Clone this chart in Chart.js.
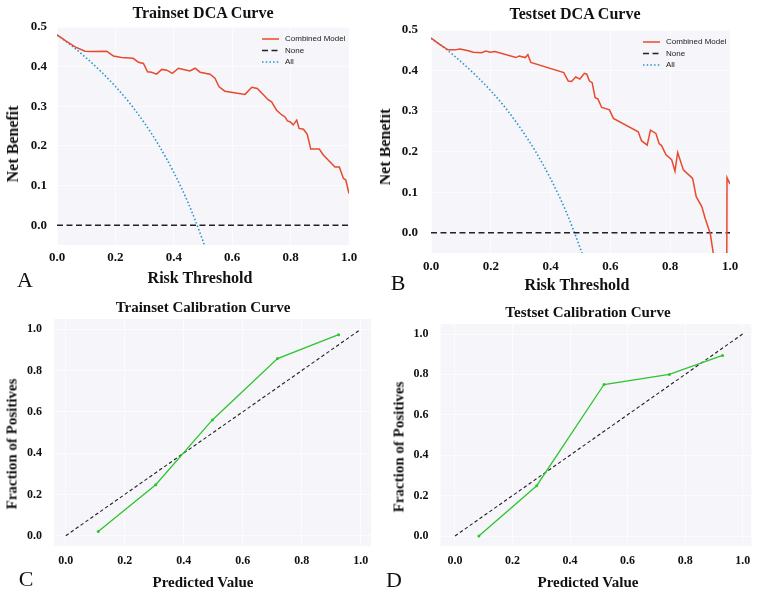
<!DOCTYPE html>
<html>
<head>
<meta charset="utf-8">
<script src="https://cdn.jsdelivr.net/npm/chart.js@4.4.1/dist/chart.umd.min.js"></script>
<style>
body { margin: 0; background: #fff; width: 760px; height: 595px; position: relative; overflow: hidden; }
.panel { position: absolute; overflow: hidden; }
.panel canvas { position: absolute; left: 0; top: 0; }
.lbl { position: absolute; font-family: "Liberation Serif", "Times New Roman", serif; font-weight: bold; color: #111;
       white-space: nowrap; line-height: 1; transform: translate(-50%, -50%); }
.lbl.rot { transform: translate(-50%, -50%) rotate(-90deg); }
.letter { position: absolute; font-family: "Liberation Serif", "Times New Roman", serif; font-size: 22px; line-height: 1;
          color: #111; transform: translate(-50%, -50%); }
</style>
</head>
<body>

<div class="panel" style="left:0;top:0;width:380px;height:295px">
  <canvas id="trainDca" width="380" height="295"></canvas>
  <div class="lbl" style="left:203px;top:13px;font-size:16px">Trainset DCA Curve</div>
  <div class="lbl rot" style="left:13px;top:144px;font-size:16px">Net Benefit</div>
  <div class="lbl" style="left:200px;top:278px;font-size:16px">Risk Threshold</div>
  <div class="letter" style="left:25px;top:280px">A</div>
</div>

<div class="panel" style="left:380px;top:0;width:380px;height:295px">
  <canvas id="testDca" width="380" height="295"></canvas>
  <div class="lbl" style="left:195px;top:14px;font-size:16px">Testset DCA Curve</div>
  <div class="lbl rot" style="left:5px;top:147px;font-size:16px">Net Benefit</div>
  <div class="lbl" style="left:197px;top:285px;font-size:16px">Risk Threshold</div>
  <div class="letter" style="left:18px;top:283px">B</div>
</div>

<div class="panel" style="left:0;top:295px;width:380px;height:300px">
  <canvas id="trainCal" width="380" height="300"></canvas>
  <div class="lbl" style="left:203px;top:12px;font-size:15px">Trainset Calibration Curve</div>
  <div class="lbl rot" style="left:12px;top:149px;font-size:15px">Fraction of Positives</div>
  <div class="lbl" style="left:203px;top:287px;font-size:15px">Predicted Value</div>
  <div class="letter" style="left:26px;top:284px">C</div>
</div>

<div class="panel" style="left:380px;top:295px;width:380px;height:300px">
  <canvas id="testCal" width="380" height="300"></canvas>
  <div class="lbl" style="left:208px;top:17px;font-size:15px">Testset Calibration Curve</div>
  <div class="lbl rot" style="left:19px;top:152px;font-size:15px">Fraction of Positives</div>
  <div class="lbl" style="left:208px;top:287px;font-size:15px">Predicted Value</div>
  <div class="letter" style="left:14px;top:285px">D</div>
</div>

<script>
// tick labels
const dcaTicksX = [0, 0.2, 0.4, 0.6, 0.8, 1.0];
const dcaTicksY = [0, 0.1, 0.2, 0.3, 0.4, 0.5];
const calTicks = [0, 0.2, 0.4, 0.6, 0.8, 1.0];

// trainset DCA, combined model
const trainThreshold = [0, 0.03, 0.062, 0.096, 0.119, 0.17, 0.193, 0.221, 0.261, 0.279, 0.296, 0.31, 0.324, 0.341,
    0.359, 0.376, 0.395, 0.416, 0.433, 0.455, 0.473, 0.49, 0.524, 0.541, 0.555, 0.575, 0.644, 0.667, 0.686, 0.724,
    0.735, 0.752, 0.77, 0.781, 0.789, 0.798, 0.809, 0.821, 0.829, 0.844, 0.857, 0.869, 0.898, 0.912, 0.952, 0.967,
    0.981, 0.989, 1.0];
const trainModelNB = [0.48, 0.465, 0.45, 0.439, 0.438, 0.439, 0.427, 0.423, 0.421, 0.411, 0.408, 0.387, 0.386, 0.381,
    0.393, 0.391, 0.383, 0.396, 0.393, 0.389, 0.396, 0.386, 0.381, 0.371, 0.349, 0.338, 0.33, 0.348, 0.345, 0.316,
    0.311, 0.29, 0.278, 0.273, 0.263, 0.261, 0.253, 0.265, 0.244, 0.242, 0.229, 0.192, 0.192, 0.177, 0.147, 0.147,
    0.118, 0.114, 0.08];

// testset DCA, combined model
const testThreshold = [0, 0.03, 0.057, 0.08, 0.097, 0.125, 0.141, 0.169, 0.183, 0.198, 0.214, 0.284, 0.295, 0.315,
    0.324, 0.334, 0.444, 0.459, 0.47, 0.484, 0.498, 0.513, 0.521, 0.53, 0.539, 0.549, 0.558, 0.571, 0.597, 0.61,
    0.693, 0.704, 0.723, 0.734, 0.752, 0.763, 0.771, 0.786, 0.805, 0.816, 0.825, 0.844, 0.875, 0.887, 0.906, 0.917,
    0.934, 0.945, 0.96, 0.985, 0.99, 1.0];
const testModelNB = [0.48, 0.464, 0.451, 0.451, 0.453, 0.449, 0.445, 0.444, 0.448, 0.445, 0.447, 0.432, 0.436, 0.432,
    0.439, 0.42, 0.395, 0.374, 0.373, 0.384, 0.379, 0.393, 0.391, 0.374, 0.37, 0.333, 0.33, 0.309, 0.303, 0.282,
    0.249, 0.227, 0.216, 0.253, 0.245, 0.22, 0.215, 0.192, 0.18, 0.152, 0.198, 0.155, 0.134, 0.089, 0.064, 0.035,
    -0.002, -0.055, -0.35, -1.2, 0.136, 0.12];

// treat all / treat none
const allThreshold = [0, 0.05, 0.10, 0.15, 0.20, 0.25, 0.30, 0.35, 0.40, 0.45, 0.50, 0.52];
const trainAllNB = [0.48, 0.453, 0.422, 0.388, 0.35, 0.307, 0.257, 0.2, 0.133, 0.055, -0.04, -0.083];
const testAllNB = [0.48, 0.453, 0.422, 0.388, 0.35, 0.307, 0.257, 0.2, 0.133, 0.055, -0.04, -0.083];
const noneThreshold = [0, 1];
const noneNB = [0, 0];

// calibration
const trainPredicted = [0.11, 0.305, 0.497, 0.718, 0.925];
const trainObserved = [0.02, 0.247, 0.561, 0.858, 0.974];
const testPredicted = [0.083, 0.284, 0.518, 0.745, 0.93];
const testObserved = [0.0, 0.249, 0.75, 0.80, 0.894];
const diagonal = [0, 1];

function pts(xs, ys) {
    return xs.map((x, i) => ({ x: x, y: ys[i] }));
}

// light plot background
const plotBg = {
    id: "plotBg",
    beforeDraw(chart) {
        const { ctx, chartArea: a } = chart;
        ctx.save();
        ctx.fillStyle = "#f5f5fa";
        ctx.fillRect(a.left, a.top, a.right - a.left, a.bottom - a.top);
        ctx.restore();
    }
};

// small legend in the upper right of the plot
const insideLegend = {
    id: "insideLegend",
    afterDatasetsDraw(chart) {
        const { ctx, chartArea: a } = chart;
        ctx.save();
        ctx.font = '8px "Liberation Sans", Arial, sans-serif';
        ctx.textBaseline = "middle";
        chart.data.datasets.forEach((ds, i) => {
            const y = a.top + 12 + i * 11.5;
            ctx.strokeStyle = ds.borderColor;
            ctx.lineWidth = ds.borderWidth;
            ctx.setLineDash(ds.borderDash || []);
            ctx.beginPath();
            ctx.moveTo(a.right - 87, y);
            ctx.lineTo(a.right - 70, y);
            ctx.stroke();
            ctx.fillStyle = "#222";
            ctx.fillText(ds.label, a.right - 64, y);
        });
        ctx.restore();
    }
};

function axis(min, max, ticks, fontSize, pad, fit) {
    return {
        type: "linear",
        min: min,
        max: max,
        afterBuildTicks: (s) => { s.ticks = ticks.map((v) => ({ value: v })); },
        afterFit: fit,
        grid: { color: "rgba(255,255,255,0.7)", lineWidth: 1, drawTicks: false },
        border: { display: false },
        ticks: {
            padding: pad,
            autoSkip: false,
            maxRotation: 0,
            color: "#111",
            font: { family: '"Liberation Serif", "Times New Roman", serif', weight: "bold", size: fontSize },
            callback: (v) => Number(v).toFixed(1)
        }
    };
}

// box = plot area inside the canvas
function makeChart(id, datasets, box, xr, yr, xTicks, yTicks, fontSize, pad, plugins) {
    const canvas = document.getElementById(id);
    const W = canvas.width, H = canvas.height;
    return new Chart(canvas, {
        type: "line",
        data: { datasets: datasets },
        options: {
            responsive: false,
            animation: false,
            events: [],
            layout: { padding: { left: 0, top: box.top, right: W - box.right, bottom: 0 } },
            plugins: { legend: { display: false }, tooltip: { enabled: false } },
            scales: {
                x: axis(xr[0], xr[1], xTicks, fontSize, pad.x, (s) => { s.height = H - box.bottom; }),
                y: axis(yr[0], yr[1], yTicks, fontSize, pad.y, (s) => { s.width = box.left; })
            }
        },
        plugins: plugins
    });
}

function dcaSets(thr, model, allNB) {
    return [
        { label: "Combined Model", data: pts(thr, model), borderColor: "#e84a2c", borderWidth: 1.5, pointRadius: 0 },
        { label: "None", data: pts(noneThreshold, noneNB), borderColor: "#222", borderWidth: 1.5,
          borderDash: [6, 3.5], pointRadius: 0 },
        { label: "All", data: pts(allThreshold, allNB), borderColor: "#2a93cc", borderWidth: 1.6,
          borderDash: [1.5, 2.2], pointRadius: 0, cubicInterpolationMode: "monotone" }
    ];
}

function calSets(pred, obs) {
    return [
        { label: "Calibration", data: pts(pred, obs), borderColor: "#2ec52e", backgroundColor: "#2ec52e",
          borderWidth: 1.3, pointRadius: 1.5, pointBorderWidth: 0 },
        { label: "Perfectly calibrated", data: pts(diagonal, diagonal), borderColor: "#222", borderWidth: 1.1,
          borderDash: [3.5, 2.5], pointRadius: 0 }
    ];
}

makeChart("trainDca", dcaSets(trainThreshold, trainModelNB, trainAllNB),
    { left: 57, right: 349, top: 27, bottom: 245 }, [0, 1], [-0.05, 0.5], dcaTicksX, dcaTicksY, 13,
    { x: 5.2, y: 10 }, [plotBg, insideLegend]);

makeChart("testDca", dcaSets(testThreshold, testModelNB, testAllNB),
    { left: 51, right: 350, top: 30, bottom: 253 }, [0, 1], [-0.05, 0.5], dcaTicksX, dcaTicksY, 13,
    { x: 5.4, y: 13 }, [plotBg, insideLegend]);

makeChart("trainCal", calSets(trainPredicted, trainObserved),
    { left: 54, right: 371, top: 24, bottom: 251 }, [-0.04, 1.035], [-0.05, 1.05], calTicks, calTicks, 12,
    { x: 7.3, y: 12 }, [plotBg]);

makeChart("testCal", calSets(testPredicted, testObserved),
    { left: 60.6, right: 371.3, top: 28.9, bottom: 251.1 }, [-0.05, 1.03], [-0.05, 1.05], calTicks, calTicks, 12,
    { x: 7.5, y: 12 }, [plotBg]);
</script>
</body>
</html>
